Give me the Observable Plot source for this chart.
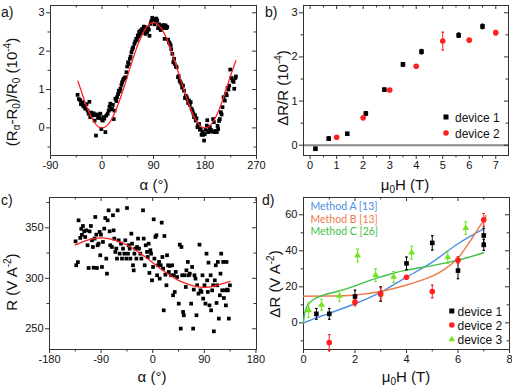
<!DOCTYPE html>
<html><head><meta charset="utf-8">
<script src="https://cdn.jsdelivr.net/npm/d3@7"></script>
<script src="https://cdn.jsdelivr.net/npm/@observablehq/plot@0.6"></script>
<style>
body{margin:0;background:#fff;}
#wrap{position:relative;width:512px;height:387px;overflow:hidden;font-family:"Liberation Sans",Arial,sans-serif;}
#wrap svg{position:absolute;left:0;top:0;}
</style></head><body><div id="wrap"></div>
<script>
// ---------- Panel a: (Ra-R0)/R0 vs alpha ----------
const aPoints = [[-42.7,0.86],[-40.4,0.75],[-38,0.72],[-36.9,0.62],[-34,0.67],[-33.3,0.58],[-31,0.55],[-29.3,0.5],[-27,0.62],[-25.2,0.45],[-23.4,0.37],[-22,0.68],[-20.5,0.28],[-19,0.4],[-17.5,0.32],[-16,0.36],[-14.6,0.38],[-12.9,0.19],[-11,0.33],[-10.5,-0.2],[-8.8,0.35],[-7,0.26],[-5.9,0.32],[-4.1,0.26],[-2.9,0.37],[-1.2,-0.03],[0,0.22],[1.2,0.19],[2.9,0.28],[4,0.24],[5.9,-0.11],[7.6,0.32],[9.9,0.37],[11.7,0.45],[13,0.55],[14.6,0.63],[16,0.48],[17.5,0.5],[19,0.6],[20.5,0.23],[22,0.45],[23.4,0.76],[25,0.7],[26.3,0.8],[28,0.88],[29.3,0.97],[31,0.95],[32.2,1.02],[34,1.12],[35.1,1.19],[37,1.25],[38,1.28],[39.5,1.3],[41,1.32],[42.7,1.45],[44,1.6],[45.6,1.71],[47,1.66],[48.6,1.8],[50,1.86],[51.5,1.97],[53,2.05],[54.4,2.1],[56.7,2.19],[58,2.25],[59.7,2.32],[61,2.29],[62.6,2.41],[64,2.38],[64.9,2.5],[66,2.43],[67.3,2.54],[69,2.47],[70.2,2.58],[72,2.52],[73.1,2.64],[75,2.55],[76.1,2.45],[77.5,2.62],[79,2.5],[80.5,2.6],[81.9,2.56],[83,2.4],[84.8,2.71],[86,2.78],[87.8,2.87],[89,2.82],[90.7,2.84],[92,2.7],[93.6,2.76],[95,2.85],[96.5,2.8],[98,2.6],[99.5,2.7],[101.2,2.64],[102.5,2.55],[104.1,2.67],[105.5,2.6],[107.1,2.61],[108,2.68],[109.4,2.32],[111.2,2.67],[112.5,2.6],[114.1,2.63],[115.5,2.3],[117,2.23],[118.5,2.2],[119.9,2.15],[121,2.05],[122.9,1.93],[124.6,1.71],[126,1.8],[127,1.67],[129,1.6],[130.5,1.58],[132.8,1.32],[134,1.35],[135.7,1.23],[137,1.2],[138.6,1.15],[140,1.05],[141.6,1.1],[143.3,0.97],[145,0.78],[146.3,0.84],[148,0.8],[149.2,0.75],[150.5,0.65],[152.1,0.71],[153.5,0.6],[155,0.67],[156.5,0.5],[158,0.45],[159.5,0.38],[160.9,0.28],[162.5,0.33],[163.8,0.19],[165,0.25],[166.7,0.02],[168,0.08],[169.7,0.1],[171,-0.05],[172.6,-0.03],[174,-0.18],[175.5,-0.11],[177,-0.18],[178.4,-0.33],[179.6,-0.16],[181,-0.05],[183.1,0.06],[184,0.2],[185.4,-0.11],[187,-0.08],[188.4,0.02],[190,-0.05],[191.3,-0.07],[192.5,-0.1],[194.2,0.23],[195.5,0.15],[197.1,-0.11],[198.5,-0.08],[200.7,-0.11],[202,0.05],[203,-0.03],[204.5,0.18],[205.9,0.23],[207.7,0.41],[209,0.35],[210.6,0.54],[212.4,0.8],[214.7,0.71],[216.5,0.89],[218,0.85],[219.4,1.04],[221,1.0],[222.3,1.1],[224.1,1.52],[226,1.3],[228.2,1.23],[230,1.2],[231.1,1.02],[233,1.3],[234,1.34]];
const aFitAlpha = [-42,-30,-15,0,15,30,45,60,75,90,105,120,135,150,165,180,195,210,225,234];
const aFitVal   = [1.22,0.69,0.18,0,0.18,0.69,1.37,2.06,2.56,2.75,2.56,2.06,1.37,0.69,0.18,0,0.18,0.69,1.37,1.75];

// ---------- Panel b: dR/R vs field ----------
const bDev1H = [0.2,0.7,1.4,2.1,2.8,3.5,4.2,5.6,6.5];
const bDev1V = [-0.08,0.15,0.26,0.72,1.26,1.83,2.12,2.49,2.69];
const bDev1E = [0.03,0.04,0.03,0.04,0.03,0.04,0.05,0.05,0.05];
const bDev2H = [1,2,3,4,5,6,7];
const bDev2V = [0.18,0.62,1.25,1.79,2.36,2.38,2.55];
const bDev2E = [0.02,0.02,0.02,0.02,0.2,0.03,0.05];

// ---------- Panel c: R vs alpha ----------
const cPoints = [[-134.6,336.6],[-133.4,312.9],[-130.5,316],[-129.3,357.4],[-126.4,340],[-124.6,349],[-123.5,343],[-121.7,351.8],[-119.4,346.5],[-117.7,340.9],[-116,347.5],[-113.6,332.7],[-111.8,310.2],[-110.1,346.5],[-107.8,351.8],[-106,337.6],[-104.3,331],[-103.1,310.5],[-101.4,339.3],[-100.2,360.7],[-98.4,343.2],[-97.3,310.2],[-96.1,332.7],[-94.4,334.3],[-92.6,345.9],[-91.5,322.8],[-90.3,343.2],[-88.5,311.2],[-86.8,336],[-84.5,349.2],[-82.7,359.7],[-81,319.5],[-79.8,304.6],[-78.6,357.4],[-76.9,367.3],[-75.1,346.5],[-74,332.7],[-71.1,331],[-69.3,362.4],[-68.2,347.5],[-67,339.3],[-65.2,326.1],[-63.5,329.4],[-62.3,319.5],[-61.2,367.3],[-59.4,337.6],[-57.7,324.4],[-55.3,334.3],[-53.6,319.5],[-51.8,329.4],[-49.5,324.4],[-47.8,337.6],[-46,319.5],[-44.9,369.6],[-43.1,324.4],[-41.9,332.7],[-40.2,329.4],[-39,319.5],[-37.3,344.2],[-36.1,334.3],[-34.4,312.9],[-33.2,307.9],[-32,324.4],[-30.3,329.4],[-28.5,319.5],[-27.4,331],[-25.6,339.3],[-23.9,329.4],[-21.6,324.4],[-19.8,319.5],[-16.9,367.3],[-15.7,339.3],[-14,312.9],[-12.2,332.7],[-9.9,326.1],[-8.7,321.1],[-7,334.3],[-5.8,305.3],[-4.1,327.8],[-2.9,324.4],[-1.2,298],[0.6,311.2],[1.7,358.4],[2.9,319.5],[4.7,340.9],[6.4,342.6],[7.6,303],[9.3,312.9],[11.1,316.2],[12.2,299.7],[14,312.9],[15.7,355.1],[16.9,321.1],[18.1,309.6],[19.2,268.3],[20.4,341.9],[22.1,303.6],[23.9,293.1],[25,322.8],[26.8,312.9],[28,306.3],[29.7,312.2],[32,303],[33.8,312.9],[35.5,283.2],[36.7,303],[38.4,286.5],[40.2,306.3],[42.5,301.3],[45.4,274.9],[47.2,333.3],[48.9,250.2],[50.1,331],[51.3,303],[53,266.7],[54.2,263.4],[55.9,303],[57.7,291.4],[58.8,307.9],[61.2,316.2],[63,303],[64.7,304.6],[67,274.9],[68.7,311.2],[70.5,250.2],[71.6,288.8],[72.8,303],[74.6,299.7],[76.3,263.4],[77.5,293.1],[79.8,284.8],[81.6,333.3],[83.3,288.1],[85,286.5],[86.8,303],[88,279.9],[90.3,293.1],[92,274.9],[93.8,324.4],[95,298],[96.1,286.5],[97.3,315.5],[99,273.2],[101,303],[101.9,268.3],[103.7,288.1],[105.4,293.1],[106.6,247.5],[108.3,298],[110,312.9],[111.3,275.6],[112.4,293.1],[113.6,316.2],[115.3,260.1],[117.1,283.2],[118.2,304.6],[119.4,324.4],[121.2,288.1],[122.9,316.2],[124.1,280.5],[125.8,288.1],[127.6,273.2],[128.7,316.2],[129.9,288.8],[131.1,288.1],[132.8,260.1],[134.6,293.1]];
const cFitAlpha = [-135,-120,-105,-90,-75,-60,-45,-30,-15,0,15,30,45,60,75,90,105,120,135];
const cFitVal   = [333,336.5,339,340,339,336.5,333,328,322,315.5,309,303,298,294.5,292,291,292,294.5,297];

// ---------- Panel d: dR vs field ----------
const dDev1H = [0.5,1,2,3,4,5,6,7,7];
const dDev1V = [5,5,14.6,16,33,44.4,29,48.5,43.3];
const dDev1E = [3,3,3.5,4,3.5,4,4.5,4,3];
const dDev2H = [1,2,3,4,5,6,7];
const dDev2V = [-11,11.5,16,25.3,17.4,34.8,57.2];
const dDev2E = [4.5,2,3.5,1,3.5,2,3.5];
const dDev3H = [0.2,0.7,1.4,2.1,2.8,3.5,4.2,5.6,6.3];
const dDev3V = [7,10,15,37.4,26.5,25.5,39,36.5,52.6];
const dDev3E = [4,3,3,3.5,3.5,3,3.5,3.5,3.5];
const fitAH = [0,0.5,1,2,3,4,5,6,7];
const fitAV = [0,2.8,5.3,10.6,17,25.4,33.7,43.9,52.2];
const fitBH = [0,1,2,3,4,5,5.5,6,6.5,7,7.08];
const fitBV = [14.8,14.9,15.5,17.4,21,26,30,36,46,57,59.5];
const fitCH = [0,0.03,0.1,0.25,0.5,0.8,1.2,1.6,2,2.5,3,3.5,4,5,6,7];
const fitCV = [0,4,8,11.3,13.8,15.5,17,18.6,20.5,23.2,25.5,27.6,29.3,31.8,34.8,38.9];

const methodNames = ["Method A [13]","Method B [13]","Method C [26]"];
const methodColors = ["#4a8fe3","#ee7a4c","#3fbf45"];
const deviceNames = ["device 1","device 2","device 3"];
const deviceColors = ["#000000","#ff1f1f","#6ee61e"];

// ---------- helpers ----------
const zip = (xs, ys, es) => xs.map((x,i)=>({x, y: ys[i], e: es ? es[i] : 0}));
const pairs = arr => arr.map(([x,y])=>({x,y}));
const cap = {draw(ctx, size){ const w = Math.sqrt(size)/2; ctx.moveTo(-w,0); ctx.lineTo(w,0); ctx.closePath(); }};
const FRAME = "#333";
const baseStyle = {background:"transparent", overflow:"visible", fontFamily:"'Liberation Sans', Arial, sans-serif", fontSize:"11px", color:"#111"};

function axes(xMaj, xMin, yMaj, yMin, fw, fh){
  const fmt = d => String(d);
  return [
    Plot.axisX(xMaj, {anchor:"bottom", tickSize:4, tickPadding:2, label:null, tickFormat:fmt, stroke:FRAME}),
    Plot.axisX(xMin, {anchor:"bottom", tickSize:2.5, label:null, tickFormat:()=>"", stroke:FRAME}),
    Plot.axisY(yMaj, {anchor:"left", tickSize:4, tickPadding:2, label:null, tickFormat:fmt, stroke:FRAME}),
    Plot.axisY(yMin, {anchor:"left", tickSize:2.5, label:null, tickFormat:()=>"", stroke:FRAME}),
    Plot.tickX(xMaj, {x:d=>d, insetBottom:fh-4, stroke:FRAME}),
    Plot.tickX(xMin, {x:d=>d, insetBottom:fh-2.5, stroke:FRAME}),
    Plot.tickY(yMaj, {y:d=>d, insetLeft:fw-4, stroke:FRAME}),
    Plot.tickY(yMin, {y:d=>d, insetLeft:fw-2.5, stroke:FRAME}),
    Plot.frame({stroke:FRAME, strokeWidth:1})
  ];
}
function errMarks(data, color, r){
  return [
    Plot.ruleX(data, {x:"x", y1:d=>d.y-d.e, y2:d=>d.y+d.e, stroke:color, strokeWidth:1}),
    Plot.dot(data, {x:"x", y:d=>d.y+d.e, symbol:cap, r:r, stroke:color, fill:"none", strokeWidth:1}),
    Plot.dot(data, {x:"x", y:d=>d.y-d.e, symbol:cap, r:r, stroke:color, fill:"none", strokeWidth:1})
  ];
}

const W = 512, H = 387;
const wrap = document.getElementById("wrap");

// Panel a
const pa = Plot.plot({
  width:W, height:H, marginLeft:50, marginRight:W-256, marginTop:5, marginBottom:H-155,
  style: baseStyle,
  x:{domain:[-90,270]}, y:{domain:[-0.72,3.19]},
  marks:[
    ...axes([-90,0,90,180,270],[-45,45,135,225],[0,1,2,3],[-0.5,0.5,1.5,2.5],206,150),
    Plot.dot(pairs(aPoints), {x:"x", y:"y", symbol:"square", r:2.1, fill:"#000"}),
    Plot.line(aFitAlpha.map((x,i)=>({x, y:aFitVal[i]})), {x:"x", y:"y", stroke:"#ff2020", strokeWidth:1.3, curve:"natural"})
  ]
});
wrap.appendChild(pa);

// Panel b
const b1 = zip(bDev1H,bDev1V,bDev1E), b2 = zip(bDev2H,bDev2V,bDev2E);
const pb = Plot.plot({
  width:W, height:H, marginLeft:303, marginRight:W-508, marginTop:5, marginBottom:H-155,
  style: baseStyle,
  x:{domain:[-0.25,7.48]}, y:{domain:[-0.233,3.165]},
  marks:[
    Plot.ruleY([0], {stroke:"#888", strokeWidth:2}),
    ...axes([0,1,2,3,4,5,6,7],[0.5,1.5,2.5,3.5,4.5,5.5,6.5],[0,1,2,3],[0.5,1.5,2.5],205,150),
    ...errMarks(b1, "#000", 1.3),
    ...errMarks(b2, "#ff1f1f", 1.3),
    Plot.dot(b1, {x:"x", y:"y", symbol:"square", r:2.6, fill:"#000"}),
    Plot.dot(b2, {x:"x", y:"y", r:2.8, fill:"#ff1f1f"})
  ]
});
wrap.appendChild(pb);

// Panel c
const pc = Plot.plot({
  width:W, height:H, marginLeft:49, marginRight:W-256, marginTop:197, marginBottom:H-349,
  style: baseStyle,
  x:{domain:[-180,181]}, y:{domain:[229.5,380]},
  marks:[
    ...axes([-180,-90,0,90,180],[-135,-45,45,135],[250,300,350],[275,325,375],207,152),
    Plot.dot(pairs(cPoints), {x:"x", y:"y", symbol:"square", r:2.1, fill:"#000"}),
    Plot.line(cFitAlpha.map((x,i)=>({x, y:cFitVal[i]})), {x:"x", y:"y", stroke:"#ff2020", strokeWidth:1.3, curve:"natural"})
  ]
});
wrap.appendChild(pc);

// Panel d
const d1 = zip(dDev1H,dDev1V,dDev1E), d2 = zip(dDev2H,dDev2V,dDev2E), d3s = zip(dDev3H,dDev3V,dDev3E);
const fits = [[fitAH,fitAV],[fitBH,fitBV],[fitCH,fitCV]];
const pd = Plot.plot({
  width:W, height:H, marginLeft:303, marginRight:W-509, marginTop:197, marginBottom:H-349,
  style: baseStyle,
  x:{domain:[0,8]}, y:{domain:[-14.8,69.6]},
  marks:[
    ...axes([0,2,4,6,8],[1,3,5,7],[0,20,40,60],[-10,10,30,50],206,152),
    ...fits.map(([hs,vs],k)=>Plot.line(hs.map((x,i)=>({x,y:vs[i]})), {x:"x", y:"y", stroke:methodColors[k], strokeWidth:1.4, curve:"natural"})),
    ...errMarks(d1, deviceColors[0], 1.3),
    ...errMarks(d2, deviceColors[1], 1.3),
    ...errMarks(d3s, deviceColors[2], 1.3),
    Plot.dot(d1, {x:"x", y:"y", symbol:"square", r:2.6, fill:deviceColors[0]}),
    Plot.dot(d2, {x:"x", y:"y", r:2.8, fill:deviceColors[1]}),
    Plot.dot(d3s, {x:"x", y:"y", symbol:"triangle", r:2.5, fill:deviceColors[2]})
  ]
});
wrap.appendChild(pd);

// ---------- overlay text (titles, panel letters, legends) ----------
const sub = (t, fs=10) => `<tspan dy="3" font-size="${fs}">${t}</tspan><tspan dy="-3">`;
const sup = (t, fs=10) => `<tspan dy="-6" font-size="${fs}">${t}</tspan><tspan dy="6">`;
const TF = 15;
const ov = `
<svg xmlns="http://www.w3.org/2000/svg" width="512" height="387" font-family="'Liberation Sans', Arial, sans-serif" fill="#111">
  <text x="1" y="17" font-size="14">a)</text>
  <text x="265" y="17" font-size="14">b)</text>
  <text x="1" y="205" font-size="14">c)</text>
  <text x="262" y="205" font-size="14">d)</text>

  <text transform="translate(17,92) rotate(-90)" text-anchor="middle" font-size="${TF}">(R${sub("α")}-R${sub("0")})/R${sub("0")} (10${sup("-4")})</tspan></tspan></tspan></tspan></text>
  <text transform="translate(288,88) rotate(-90)" text-anchor="middle" font-size="${TF}">ΔR/R (10${sup("-4")})</tspan></text>
  <text transform="translate(17,282) rotate(-90)" text-anchor="middle" font-size="${TF}">R (V A${sup("-2")})</tspan></text>
  <text transform="translate(279.5,284) rotate(-90)" text-anchor="middle" font-size="${TF}">ΔR (V A${sup("-2")})</tspan></text>

  <text x="154" y="190" text-anchor="middle" font-size="${TF}">α (°)</text>
  <text x="405" y="190" text-anchor="middle" font-size="${TF}">μ${sub("0")}H (T)</tspan></text>
  <text x="152" y="382" text-anchor="middle" font-size="${TF}">α (°)</text>
  <text x="406" y="382" text-anchor="middle" font-size="${TF}">μ${sub("0")}H (T)</tspan></text>

  <rect x="443.5" y="114.5" width="5" height="5" fill="${deviceColors[0]}"/>
  <text x="455" y="121.5" font-size="12">${deviceNames[0]}</text>
  <circle cx="446" cy="133" r="2.8" fill="${deviceColors[1]}"/>
  <text x="455" y="137.5" font-size="12">${deviceNames[1]}</text>

  <rect x="449.3" y="308.5" width="5" height="5" fill="${deviceColors[0]}"/>
  <text x="457.5" y="315.5" font-size="12">${deviceNames[0]}</text>
  <circle cx="451.8" cy="325" r="2.8" fill="${deviceColors[1]}"/>
  <text x="457.5" y="329.5" font-size="12">${deviceNames[1]}</text>
  <path d="M451.8,335.8 L455,341.3 L448.6,341.3 Z" fill="${deviceColors[2]}"/>
  <text x="457.5" y="343.5" font-size="12">${deviceNames[2]}</text>

  <g font-family="Lato, 'Open Sans', sans-serif" font-size="10.5">
    <text x="310.5" y="209.5" fill="${methodColors[0]}">${methodNames[0]}</text>
    <text x="310.5" y="222.5" fill="${methodColors[1]}">${methodNames[1]}</text>
    <text x="310.5" y="234.5" fill="${methodColors[2]}">${methodNames[2]}</text>
  </g>
</svg>`;
wrap.insertAdjacentHTML("beforeend", ov);
</script></body></html>
